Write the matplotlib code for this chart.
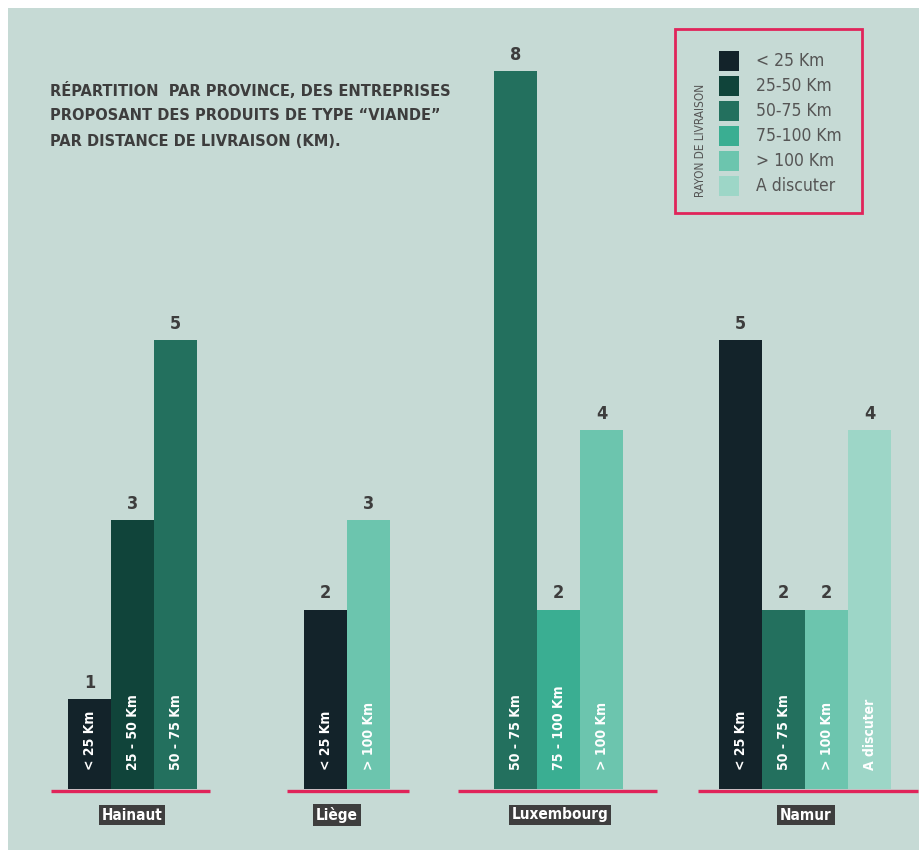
import matplotlib
matplotlib.use("Agg")
import matplotlib.pyplot as plt
from matplotlib import font_manager as fm
from matplotlib.patches import Rectangle

# ---------------- data ----------------
provinces = ["Hainaut", "Liège", "Luxembourg", "Namur"]
distances = ["< 25 Km", "25-50 Km", "50-75 Km", "75-100 Km", "> 100 Km", "A discuter"]
bar_texts = ["< 25 Km", "25 - 50 Km", "50 - 75 Km", "75 - 100 Km", "> 100 Km", "A discuter"]
lt25 = [1, 2, 0, 5]
d25_50 = [3, 0, 0, 0]
d50_75 = [5, 0, 8, 2]
d75_100 = [0, 0, 2, 0]
gt100 = [0, 3, 4, 2]
discuter = [0, 0, 0, 4]
series = [lt25, d25_50, d50_75, d75_100, gt100, discuter]
colors = ["#13232a", "#10443a", "#23705e", "#3aae92", "#6cc5ae", "#9dd6c7"]
title_lines = ["RÉPARTITION  PAR PROVINCE, DES ENTREPRISES",
               "PROPOSANT DES PRODUITS DE TYPE “VIANDE”",
               "PAR DISTANCE DE LIVRAISON (KM)."]
legend_title = "RAYON DE LIVRAISON"

# ---------------- fonts ----------------
FAMILY = "Roboto"
STRETCH = "normal"
for f in fm.fontManager.ttflist:
    if f.name == "DejaVu Sans" and f.stretch == "condensed" and f.weight in (700, "bold"):
        FAMILY, STRETCH = "DejaVu Sans", "condensed"
        break
plt.rcParams["font.family"] = [FAMILY, "DejaVu Sans"]
plt.rcParams["font.stretch"] = STRETCH

# ---------------- layout (pixels) ----------------
W, H = 920, 850
BASE = 789          # baseline pixel row
UNIT = 89.75        # pixels per value unit
BAR_W = 43
group_left = [68, 304, 494, 719]
line_ext = [(51, 210), (287, 409), (458, 657), (698, 918)]
label_cx = [132, 337, 560, 806]

BG = "#c6dad5"
PINK = "#e0245a"
TXT = "#3d3d3d"

fig = plt.figure(figsize=(W / 100, H / 100), dpi=100, facecolor="white")
fig.patches.append(Rectangle((8 / W, 0), 1, 1 - 8 / H, transform=fig.transFigure,
                             facecolor=BG, edgecolor="none", zorder=-10))

ax = fig.add_axes([0, 0, 1, 1])
ax.set_facecolor("none")
ax.set_xlim(0, W)
ax.set_ylim(-(H - BASE) / UNIT, BASE / UNIT)
ax.axis("off")
renderer = fig.canvas.get_renderer()

def fy(py):
    return 1 - py / H

def fx(px):
    return px / W

for g, prov in enumerate(provinces):
    x = group_left[g]
    for s, vals in enumerate(series):
        v = vals[g]
        if v <= 0:
            continue
        ax.bar(x, v, width=BAR_W, align="edge", color=colors[s], edgecolor="none", zorder=2)
        ax.text(x + BAR_W / 2, v + 7 / UNIT, str(v), ha="center", va="bottom",
                fontsize=13, fontweight="bold", color=TXT, zorder=3)
        ax.text(x + BAR_W / 2 + 1, 19 / UNIT, bar_texts[s], rotation=90, ha="center", va="bottom",
                fontsize=10, fontweight="bold", color="white", zorder=3)
        x += BAR_W
    a, b = line_ext[g]
    ax.plot([a, b], [-2 / UNIT, -2 / UNIT], color=PINK, lw=2.4, solid_capstyle="butt", zorder=4)
    ax.text(label_cx[g], -(815 - BASE) / UNIT, prov, ha="center", va="center",
            fontsize=11, fontweight="bold", color="white", zorder=5,
            bbox=dict(boxstyle="square,pad=0.18", facecolor="#3e3e3e", edgecolor="none"))

# title (one text per line, fitted to a width)
t0 = fig.text(fx(50), fy(90), title_lines[0], ha="left", va="center", fontsize=14,
              fontweight="bold", color=TXT)
w0 = t0.get_window_extent(renderer).width
tsize = 14 * 400 / w0
t0.set_fontsize(tsize)
for i, line in enumerate(title_lines[1:], start=1):
    fig.text(fx(50), fy(90 + 26 * i), line, ha="left", va="center", fontsize=tsize,
             fontweight="bold", color=TXT)

# legend
fig.patches.append(Rectangle((fx(675), fy(213)), (862 - 675) / W, (213 - 29) / H,
                             transform=fig.transFigure, facecolor="none",
                             edgecolor=PINK, lw=2, zorder=5))
for i, (lab, c) in enumerate(zip(distances, colors)):
    top = 51 + i * 25
    fig.patches.append(Rectangle((fx(719), fy(top + 20)), 20 / W, 20 / H,
                                 transform=fig.transFigure, facecolor=c, edgecolor="none"))
    fig.text(fx(756), fy(top + 10), lab, ha="left", va="center", fontsize=12.5,
             color="#555555")
fig.text(fx(700), fy(140), legend_title, rotation=90, ha="center", va="center",
         fontsize=8.5, color="#555555")

fig.savefig("out.png", dpi=100, facecolor="white")
